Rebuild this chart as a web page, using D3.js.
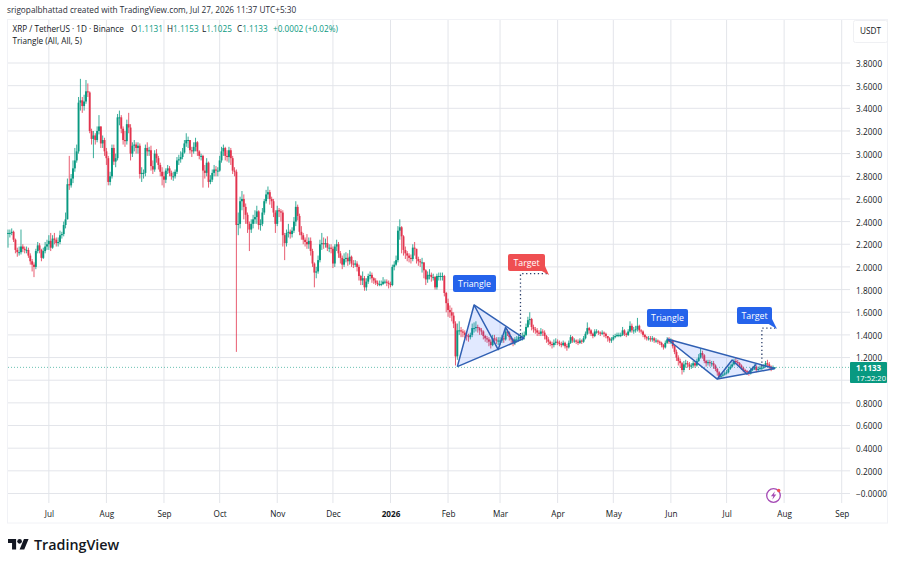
<!DOCTYPE html>
<html>
<head>
<meta charset="utf-8">
<script src="https://cdn.jsdelivr.net/npm/d3@7"></script>
<style>
  html, body { margin: 0; padding: 0; background: #fff; }
  svg { display: block; }
  text { font-family: "Open Sans", sans-serif; }
</style>
</head>
<body>
<svg id="chart" width="900" height="566"></svg>
<script>
// XRP / USDT daily candles, one entry per day from 9 Jun 2025 to 27 Jul 2026.
const firstDay = new Date(Date.UTC(2025, 5, 9));
const closes = [
  // Jun 2025
  2.30,2.30,2.31,2.24,2.15,2.13,2.13,2.18,2.16,2.15,2.15,2.10,2.05,2.02,2.00,2.14,2.19,2.15,2.08,2.14,2.18,2.20,
  // Jul
  2.23,2.17,2.25,2.24,2.21,2.22,2.28,2.29,2.37,2.42,2.73,2.72,2.78,2.87,2.94,3.02,3.45,3.47,3.42,3.46,3.55,3.54,3.20,3.13,3.16,3.12,3.20,3.24,3.09,3.12,3.02,
  // Aug
  2.96,2.75,2.80,3.05,2.93,2.96,3.32,3.32,3.22,3.12,3.11,3.26,3.23,3.00,3.07,3.08,3.05,3.07,2.82,2.83,2.83,3.05,3.02,3.03,2.89,2.86,3.00,2.96,2.90,2.84,2.80,
  // Sep
  2.77,2.85,2.87,2.83,2.80,2.80,2.84,2.94,2.95,2.97,3.01,3.09,3.12,3.12,3.03,3.02,3.06,3.10,3.02,2.98,2.98,2.85,2.83,2.92,2.75,2.77,2.83,2.86,2.85,2.85,
  // Oct
  2.94,3.02,3.05,2.98,2.97,3.03,2.96,2.85,2.84,2.37,2.38,2.58,2.60,2.53,2.46,2.38,2.33,2.38,2.42,2.44,2.49,2.37,2.38,2.48,2.58,2.64,2.66,2.60,2.58,2.48,2.38,
  // Nov
  2.50,2.49,2.48,2.28,2.21,2.30,2.31,2.29,2.32,2.40,2.53,2.45,2.31,2.28,2.24,2.22,2.20,2.23,2.14,2.03,1.95,1.96,2.06,2.20,2.21,2.20,2.21,2.17,2.17,2.16,
  // Dec
  2.03,2.18,2.20,2.12,2.08,2.02,2.07,2.08,2.05,2.09,2.03,2.02,2.03,2.00,1.92,1.88,1.90,1.82,1.87,1.92,1.93,1.90,1.88,1.86,1.85,1.85,1.85,1.87,1.87,1.86,1.85,
  // Jan 2026
  1.84,2.00,2.02,2.06,2.32,2.35,2.27,2.15,2.12,2.10,2.08,2.07,2.17,2.16,2.07,2.05,2.04,2.04,1.97,1.89,1.93,1.93,1.91,1.91,1.82,1.92,1.92,1.92,1.92,1.77,1.68,
  // Feb
  1.62,1.60,1.57,1.50,1.21,1.44,1.44,1.43,1.42,1.40,1.39,1.38,1.40,1.46,1.46,1.47,1.46,1.44,1.43,1.39,1.37,1.36,1.34,1.31,1.37,1.36,1.35,1.35,
  // Mar
  1.35,1.37,1.36,1.43,1.42,1.38,1.36,1.33,1.36,1.36,1.38,1.38,1.38,1.40,1.47,1.53,1.54,1.47,1.45,1.44,1.42,1.41,1.43,1.42,1.39,1.36,1.34,1.32,1.31,1.33,1.34,
  // Apr
  1.33,1.32,1.31,1.33,1.30,1.29,1.33,1.38,1.35,1.35,1.34,1.33,1.35,1.34,1.37,1.41,1.46,1.44,1.41,1.39,1.43,1.43,1.42,1.41,1.42,1.41,1.39,1.37,1.35,1.36,
  // May
  1.38,1.39,1.40,1.40,1.40,1.44,1.41,1.40,1.43,1.48,1.44,1.44,1.45,1.48,1.44,1.43,1.40,1.38,1.37,1.37,1.36,1.37,1.35,1.35,1.34,1.33,1.31,1.29,1.33,1.36,1.34,
  // Jun
  1.35,1.30,1.25,1.20,1.17,1.15,1.09,1.14,1.15,1.14,1.12,1.13,1.15,1.13,1.17,1.20,1.24,1.22,1.17,1.15,1.16,1.15,1.15,1.13,1.10,1.07,1.03,1.04,1.05,1.06,
  // Jul
  1.07,1.10,1.12,1.14,1.17,1.16,1.15,1.13,1.11,1.09,1.08,1.07,1.06,1.09,1.10,1.12,1.09,1.10,1.11,1.11,1.12,1.15,1.14,1.12,1.10,1.1131,1.1133
];
const highs = [
  2.33,2.33,2.34,2.32,2.25,2.17,2.18,2.33,2.20,2.18,2.18,2.17,2.12,2.07,2.04,2.16,2.22,2.21,2.16,2.17,2.22,2.24,
  2.28,2.30,2.28,2.30,2.26,2.26,2.32,2.31,2.40,2.48,2.78,2.98,2.82,2.94,3.05,3.08,3.50,3.66,3.50,3.52,3.65,3.62,3.55,3.22,3.20,3.18,3.24,3.34,3.24,3.16,3.14,
  3.05,2.98,2.84,3.08,3.08,3.00,3.35,3.38,3.34,3.24,3.20,3.30,3.36,3.26,3.10,3.12,3.10,3.10,3.09,2.88,2.86,3.08,3.10,3.06,3.07,2.94,3.03,3.04,2.98,2.92,2.88,
  2.84,2.87,2.90,2.89,2.85,2.84,2.86,2.97,2.99,3.02,3.05,3.12,3.18,3.15,3.12,3.06,3.10,3.14,3.11,3.03,3.00,2.99,2.90,2.96,2.93,2.81,2.86,2.90,2.89,2.88,
  2.98,3.06,3.08,3.06,3.03,3.06,3.05,2.98,2.88,2.86,2.48,2.62,2.67,2.64,2.56,2.48,2.40,2.42,2.46,2.50,2.54,2.50,2.42,2.52,2.60,2.68,2.71,2.68,2.62,2.60,2.50,
  2.54,2.52,2.51,2.50,2.30,2.33,2.38,2.33,2.35,2.44,2.58,2.55,2.47,2.36,2.30,2.26,2.29,2.26,2.26,2.16,2.04,2.00,2.10,2.24,2.30,2.26,2.25,2.27,2.20,2.20,
  2.18,2.20,2.24,2.22,2.14,2.10,2.12,2.13,2.12,2.15,2.10,2.06,2.06,2.05,2.02,1.93,1.96,1.92,1.90,1.94,1.96,1.95,1.91,1.90,1.88,1.88,1.88,1.91,1.89,1.89,1.88,
  1.87,2.02,2.05,2.10,2.36,2.42,2.36,2.28,2.18,2.14,2.12,2.11,2.20,2.22,2.16,2.09,2.07,2.08,2.04,1.98,1.96,1.98,1.95,1.94,1.92,1.94,1.95,1.95,1.95,1.93,1.78,
  1.72,1.66,1.64,1.60,1.52,1.50,1.52,1.47,1.45,1.44,1.43,1.41,1.42,1.50,1.51,1.52,1.49,1.47,1.46,1.44,1.40,1.39,1.38,1.36,1.40,1.40,1.38,1.38,
  1.38,1.40,1.39,1.46,1.45,1.43,1.39,1.37,1.38,1.39,1.41,1.40,1.42,1.43,1.50,1.56,1.60,1.55,1.49,1.47,1.46,1.44,1.46,1.45,1.44,1.40,1.38,1.35,1.34,1.36,1.37,
  1.36,1.35,1.34,1.35,1.34,1.32,1.35,1.40,1.39,1.37,1.36,1.36,1.37,1.36,1.39,1.43,1.51,1.47,1.45,1.42,1.45,1.45,1.44,1.43,1.44,1.43,1.42,1.39,1.38,1.38,
  1.40,1.41,1.42,1.42,1.42,1.47,1.45,1.42,1.45,1.52,1.50,1.47,1.48,1.55,1.49,1.45,1.44,1.41,1.39,1.39,1.39,1.39,1.38,1.37,1.36,1.35,1.34,1.32,1.35,1.38,1.38,
  1.37,1.36,1.31,1.27,1.22,1.19,1.16,1.17,1.18,1.17,1.16,1.15,1.17,1.17,1.19,1.23,1.28,1.26,1.23,1.18,1.18,1.18,1.17,1.17,1.14,1.11,1.08,1.06,1.07,1.08,
  1.09,1.12,1.14,1.16,1.19,1.20,1.18,1.16,1.14,1.12,1.10,1.09,1.08,1.11,1.12,1.14,1.13,1.12,1.13,1.13,1.14,1.17,1.18,1.16,1.13,1.13,1.1153
];
const lows = [
  2.17,2.26,2.28,2.22,2.12,2.09,2.10,2.11,2.13,2.12,2.12,2.08,2.02,1.96,1.91,1.98,2.12,2.12,2.05,2.07,2.12,2.15,
  2.15,2.14,2.16,2.20,2.18,2.18,2.20,2.25,2.27,2.34,2.42,2.68,2.70,2.74,2.84,2.92,3.00,3.38,3.36,3.38,3.44,3.50,3.18,3.08,2.96,3.08,3.10,3.17,3.05,3.05,2.98,
  2.90,2.72,2.72,2.78,2.90,2.88,2.94,3.25,3.18,3.08,3.06,3.08,3.18,2.94,2.97,3.02,3.00,3.00,2.78,2.75,2.78,2.80,2.98,2.98,2.85,2.82,2.84,2.92,2.86,2.80,2.72,
  2.70,2.74,2.82,2.80,2.77,2.76,2.78,2.82,2.90,2.92,2.95,3.00,3.06,3.05,3.00,2.97,3.00,3.02,2.98,2.95,2.94,2.70,2.78,2.80,2.70,2.73,2.75,2.80,2.80,2.80,
  2.84,2.92,2.98,2.94,2.93,2.92,2.90,2.82,2.80,1.25,2.28,2.34,2.50,2.42,2.38,2.30,2.14,2.30,2.34,2.38,2.38,2.33,2.32,2.36,2.46,2.56,2.60,2.55,2.52,2.44,2.30,
  2.36,2.44,2.40,2.18,2.06,2.18,2.26,2.25,2.26,2.30,2.36,2.41,2.28,2.24,2.20,2.18,2.16,2.16,2.10,2.00,1.82,1.90,1.94,2.04,2.15,2.16,2.17,2.14,2.13,2.12,
  1.99,2.00,2.14,2.08,2.03,1.98,2.00,2.04,2.01,2.02,2.00,1.99,2.00,1.96,1.88,1.84,1.84,1.79,1.79,1.85,1.89,1.86,1.85,1.84,1.83,1.83,1.83,1.84,1.85,1.83,1.81,
  1.82,1.83,1.97,2.01,2.04,2.24,2.12,2.10,2.07,2.05,2.04,2.03,2.05,2.10,2.03,2.01,2.00,1.95,1.90,1.84,1.86,1.89,1.87,1.88,1.80,1.80,1.88,1.88,1.88,1.74,1.60,
  1.56,1.55,1.52,1.46,1.13,1.18,1.40,1.38,1.38,1.37,1.35,1.34,1.36,1.38,1.42,1.43,1.42,1.40,1.40,1.36,1.34,1.33,1.30,1.28,1.30,1.33,1.32,1.31,
  1.31,1.33,1.33,1.35,1.39,1.35,1.33,1.30,1.31,1.33,1.34,1.35,1.35,1.36,1.39,1.46,1.49,1.44,1.42,1.41,1.39,1.39,1.39,1.39,1.36,1.33,1.31,1.30,1.28,1.29,1.31,
  1.31,1.30,1.29,1.30,1.28,1.26,1.28,1.32,1.33,1.33,1.32,1.31,1.32,1.32,1.33,1.36,1.40,1.41,1.39,1.37,1.38,1.41,1.40,1.39,1.40,1.38,1.37,1.34,1.33,1.33,
  1.35,1.37,1.38,1.38,1.38,1.39,1.39,1.38,1.39,1.42,1.42,1.41,1.42,1.43,1.42,1.41,1.38,1.36,1.35,1.35,1.34,1.34,1.33,1.33,1.32,1.31,1.29,1.27,1.28,1.32,1.32,
  1.32,1.28,1.23,1.17,1.13,1.11,1.05,1.07,1.11,1.11,1.09,1.10,1.11,1.11,1.12,1.16,1.19,1.19,1.15,1.12,1.13,1.12,1.12,1.10,1.08,1.04,1.01,1.02,1.03,1.04,
  1.05,1.06,1.09,1.11,1.13,1.14,1.13,1.11,1.09,1.07,1.06,1.05,1.04,1.05,1.08,1.09,1.07,1.08,1.09,1.09,1.10,1.11,1.12,1.10,1.08,1.09,1.1025
];

const priceTicks = [3.8,3.6,3.4,3.2,3.0,2.8,2.6,2.4,2.2,2.0,1.8,1.6,1.4,1.2,1.0,0.8,0.6,0.4,0.2,0];
const monthTicks = [[2025,6,"Jul"],[2025,7,"Aug"],[2025,8,"Sep"],[2025,9,"Oct"],[2025,10,"Nov"],[2025,11,"Dec"],
  [2026,0,"2026"],[2026,1,"Feb"],[2026,2,"Mar"],[2026,3,"Apr"],[2026,4,"May"],[2026,5,"Jun"],[2026,6,"Jul"],[2026,7,"Aug"],[2026,8,"Sep"]];

const lastClose = 1.1133;
const ohlcParts = [["O","1.1131",131],["H","1.1153",167],["L","1.1025",202],["C","1.1133",237]];

// Triangle drawings: pivots as [date, price]; the last entry of each is the apex.
const triangleOne = [["2026-02-06",1.12],["2026-02-15",1.664],["2026-02-28",1.27],["2026-03-04",1.467],["2026-03-09",1.32],["2026-03-14",1.37]];
const triangleTwo = [["2026-05-30",1.364],["2026-06-26",1.01],["2026-07-04",1.178],["2026-07-12",1.055],["2026-07-17",1.14],["2026-07-27",1.103]];

// Measured-move callouts.
const targetOne = {from:["2026-03-12",1.37], corner:["2026-03-12",1.94], to:["2026-03-27",1.94]};
const targetTwo = {from:["2026-07-20",1.12], corner:["2026-07-20",1.46], to:["2026-07-28",1.46]};

const UP = "#089981", DOWN = "#e2344e", GRID = "#e3e5ea", INK = "#131722", LINE = "#2f5fb3", BLUE = "#2563eb", RED = "#ef4f52";

const x = d3.scaleUtc().domain([firstDay, new Date(Date.UTC(2026, 8, 1))]).range([8, 841.7]);
const y = d3.scaleLinear().domain([0, 3.8]).range([493.5, 63]);
const days = d3.utcDay.range(firstDay, new Date(firstDay.getTime() + closes.length * 864e5));
const bars = closes.map((c, i) => ({
  date: days[i], open: i ? closes[i - 1] : 2.30, close: c, high: highs[i], low: lows[i]
}));
const at = ([d, p]) => [x(new Date(d + "T00:00:00Z")), y(p)];

const svg = d3.select("#chart");

// Pane frame
svg.append("rect").attr("x", 7.5).attr("y", 19.5).attr("width", 880).attr("height", 503.5)
  .attr("fill", "none").attr("stroke", "#f1f2f6");

// Price axis, with its ticks extended into the pane as the horizontal grid
const yAxis = d3.axisRight(y).tickValues(priceTicks).tickSize(0)
  .tickFormat(v => v === 0 ? "\u22120.0000" : v === 1 ? "" : v.toFixed(4));
const gY = svg.append("g").attr("transform", "translate(856,0.8)").call(yAxis);
gY.select(".domain").remove();
gY.selectAll("text").attr("x", 0).attr("text-anchor", "start").attr("font-size", 8.2)
  .attr("font-family", '"Open Sans", sans-serif').attr("fill", INK).attr("letter-spacing", 0.1);
svg.append("g").selectAll("line").data(priceTicks).join("line")
  .attr("x1", 8).attr("x2", 850).attr("y1", d => y(d)).attr("y2", d => y(d))
  .attr("stroke", GRID);

// Time axis, with its ticks extended upward as the vertical grid
const monthDates = monthTicks.map(([yr, m]) => new Date(Date.UTC(yr, m, 1)));
const xAxis = d3.axisBottom(x).tickValues(monthDates).tickSize(0).tickPadding(0)
  .tickFormat((d, i) => monthTicks[i][2]);
const gX = svg.append("g").attr("transform", "translate(0,511)").call(xAxis);
gX.select(".domain").remove();
gX.selectAll("text").attr("font-size", 8.2).attr("font-family", '"Open Sans", sans-serif').attr("fill", INK)
  .attr("font-weight", (d, i) => monthTicks[i][2] === "2026" ? 700 : 400);
svg.append("g").selectAll("line").data(monthDates).join("line")
  .attr("x1", d => x(d)).attr("x2", d => x(d)).attr("y1", 20).attr("y2", 503)
  .attr("stroke", GRID);

// Candles
const candle = svg.append("g").selectAll("g").data(bars).join("g")
  .attr("fill", d => d.close >= d.open ? UP : DOWN)
  .attr("stroke", d => d.close >= d.open ? UP : DOWN);
candle.append("line")
  .attr("x1", d => x(d.date)).attr("x2", d => x(d.date))
  .attr("y1", d => y(d.high)).attr("y2", d => y(d.low))
  .attr("stroke-width", 1).attr("stroke-opacity", 0.8);
candle.append("rect")
  .attr("x", d => x(d.date) - 0.95).attr("width", 1.9)
  .attr("y", d => y(Math.max(d.open, d.close)))
  .attr("height", d => Math.max(1, Math.abs(y(d.open) - y(d.close))))
  .attr("stroke", "none");

// Last price line
svg.append("line").attr("x1", 8).attr("x2", 850).attr("y1", y(lastClose)).attr("y2", y(lastClose))
  .attr("stroke", UP).attr("stroke-opacity", 0.6).attr("stroke-dasharray", "1 2");

// Triangle patterns: shaded wedge, outer edges and zigzag through the pivots
function drawTriangle(pivots) {
  const pts = pivots.map(at);
  const apex = pts[pts.length - 1];
  const g = svg.append("g").attr("fill", "none").attr("stroke", LINE).attr("stroke-width", 1.5).attr("stroke-linejoin", "round");
  g.append("polygon").attr("points", [pts[0], pts[1], apex].join(" "))
    .attr("fill", "#2962ff").attr("fill-opacity", 0.14).attr("stroke", "none");
  const line = d3.line();
  g.append("path").attr("d", line([pts[0], apex]));
  g.append("path").attr("d", line([pts[1], apex]));
  g.append("path").attr("d", line(pts.slice(0, -1)));
}
drawTriangle(triangleOne);
drawTriangle(triangleTwo);

// Dotted target paths
function drawTarget(t) {
  const p = [t.from, t.corner, t.to].map(at);
  svg.append("path").attr("d", d3.line()(p)).attr("fill", "none")
    .attr("stroke", "#2b3f6b").attr("stroke-width", 1.3).attr("stroke-dasharray", "1.3 2.6");
}
drawTarget(targetOne);
drawTarget(targetTwo);

// Text callouts with a small tail at the lower right
function callout(label, x0, y0, w, h, fill, tail) {
  const g = svg.append("g");
  if (tail) {
    g.append("path").attr("d", `M${x0 + w - 5},${y0 + h - 1}L${tail[0]},${tail[1]}L${x0 + w},${y0 + h - 5}Z`).attr("fill", fill);
  }
  g.append("rect").attr("x", x0).attr("y", y0).attr("width", w).attr("height", h).attr("rx", 2).attr("fill", fill);
  g.append("text").attr("x", x0 + w / 2).attr("y", y0 + h / 2 + 3).attr("text-anchor", "middle")
    .attr("font-size", 8.8).attr("font-weight", 500).attr("fill", "#fff").attr("font-family", "Lato, sans-serif").text(label);
}
callout("Triangle", 453, 275, 43, 17, BLUE);
callout("Target", 508, 254, 37, 17, RED, [549, 275]);
callout("Triangle", 647, 309, 41, 18, BLUE);
callout("Target", 737, 307, 35, 17, BLUE, [777, 329]);

// Price scale corner: currency tag and last price tag
svg.append("rect").attr("x", 853.5).attr("y", 20.5).attr("width", 34).attr("height", 22).attr("rx", 2)
  .attr("fill", "#fff").attr("stroke", "#eff0f3");
svg.append("text").attr("x", 870.5).attr("y", 34).attr("text-anchor", "middle").attr("font-size", 8.2).attr("fill", INK).text("USDT");
svg.append("rect").attr("x", 850).attr("y", 362).attr("width", 37).attr("height", 21).attr("rx", 1).attr("fill", UP);
svg.append("text").attr("x", 856).attr("y", 371).attr("font-size", 8).attr("font-weight", 700).attr("fill", "#fff").text("1.1133");
svg.append("text").attr("x", 856).attr("y", 380.5).attr("font-size", 7.6).attr("fill", "#fff").text("17:52:20");

// Header lines
svg.append("text").attr("x", 7).attr("y", 13).attr("font-size", 8.25).attr("fill", "#2a2e39")
  .text("srigopalbhattad created with TradingView.com, Jul 27, 2026 11:37 UTC+5:30");
svg.append("text").attr("x", 12.5).attr("y", 32).attr("font-size", 8.2).attr("fill", INK).text("XRP / TetherUS \u00b7 1D \u00b7 Binance");
ohlcParts.forEach(([k, v, px]) => {
  const t = svg.append("text").attr("x", px).attr("y", 32).attr("font-size", 8.2);
  t.append("tspan").attr("fill", INK).text(k);
  t.append("tspan").attr("fill", UP).text(v);
});
svg.append("text").attr("x", 273).attr("y", 32).attr("font-size", 8.2).attr("fill", UP).text("+0.0002 (+0.02%)");
svg.append("text").attr("x", 12.5).attr("y", 44).attr("font-size", 8.2).attr("fill", INK).text("Triangle (All, All, 5)");

// Replay badge
const badge = svg.append("g").attr("transform", "translate(773.5,495.5)");
badge.append("circle").attr("r", 6.8).attr("fill", "#fff").attr("stroke", "#a54bb5").attr("stroke-width", 1.3);
badge.append("path").attr("d", "M1.4,-4.2L-2.6,0.8L-0.2,0.8L-1.2,4.2L2.8,-1L0.4,-1Z").attr("fill", "#a54bb5");
badge.append("circle").attr("cx", 5.2).attr("cy", -5).attr("r", 1.7).attr("fill", "#ef4f52");

// Brand mark and wordmark
svg.append("path").attr("transform", "translate(8,536.7) scale(0.58)")
  .attr("d", "M14 22H7V11H0V4h14v18zM28 22h-8l7.5-18h8L28 22z").attr("fill", INK);
svg.append("circle").attr("cx", 8 + 20 * 0.58).attr("cy", 536.7 + 8 * 0.58).attr("r", 4 * 0.58).attr("fill", INK);
svg.append("text").attr("x", 34).attr("y", 550).attr("font-size", 14.3).attr("font-weight", 600)
  .attr("font-family", "Inter, sans-serif").attr("fill", INK).text("TradingView");
</script>
</body>
</html>
